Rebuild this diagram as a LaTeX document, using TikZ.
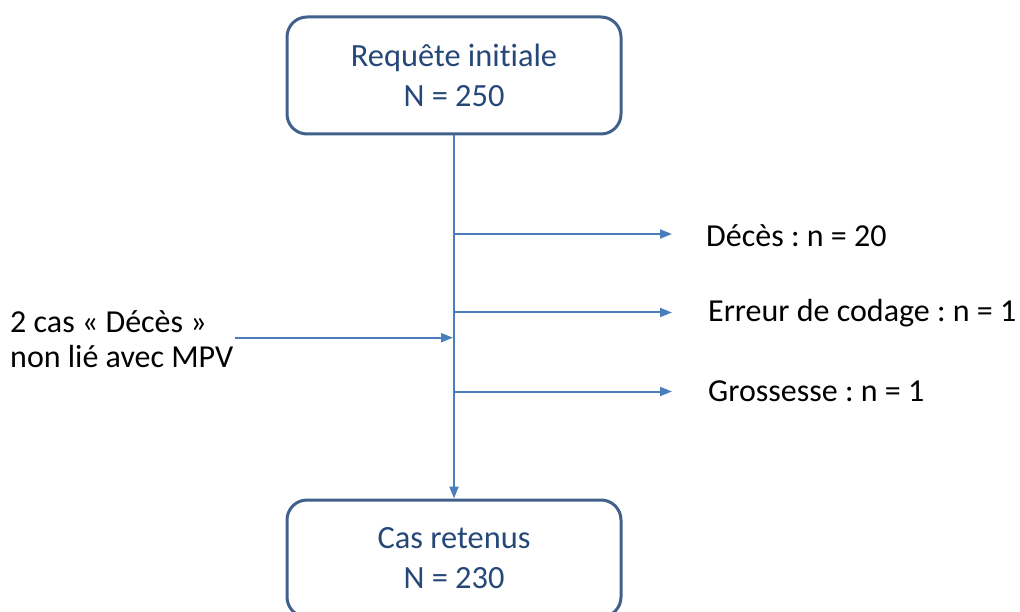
\documentclass[tikz,border=0pt]{standalone}
\usepackage{fontspec}
\setmainfont[Ligatures=NoCommon]{Carlito}
\frenchspacing
\usetikzlibrary{arrows.meta}
\definecolor{boxline}{RGB}{65,97,140}
\definecolor{boxtext}{RGB}{38,72,120}
\definecolor{flow}{RGB}{74,126,187}
\tikzset{
  stage/.style={draw=boxline, line width=3pt, rounded corners=20pt,
    minimum width=334pt, minimum height=117pt, align=center,
    text=boxtext, font=\fontsize{32.4}{40}\selectfont},
  note/.style={anchor=west, align=left, text=black,
    font=\fontsize{32}{35}\selectfont, inner sep=0pt},
  flowline/.style={draw=flow, line width=2pt,
    -{Triangle[length=12pt,width=9pt]}}
}
\begin{document}
\begin{tikzpicture}[x=1pt,y=-1pt]
\useasboundingbox (0,0) rectangle (1020,612);

% the two stages of the selection
\node[stage] (start) at (454,75.5) {Requête initiale\\N = 250};
\node[stage] (kept) at (454,558.5) {Cas retenus\\N = 230};

% main flow
\draw[flowline] (start.south) -- (kept.north);

% exclusions branching off the trunk
\coordinate (b1) at (454,234);
\coordinate (b2) at (454,312.5);
\coordinate (b3) at (454,391.5);
\coordinate (e1) at (672,234);
\coordinate (e2) at (672,312.5);
\coordinate (e3) at (672,391.5);
\draw[flowline] (b1) -- (e1);
\draw[flowline] (b2) -- (e2);
\draw[flowline] (b3) -- (e3);

\node[note] (x1) at (706,236) {Décès : n = 20};
\node[note] (x2) at (708,313) {Erreur de codage : n = 1};
\node[note] (x3) at (708,391) {Grossesse : n = 1};

% cases put back into the flow
\node[note] (back) at (10,339) {2 cas « Décès »\\non lié avec MPV};
\coordinate (in0) at (235,337.7);
\coordinate (in1) at (453,337.7);
\draw[flowline] (in0) -- (in1);
\end{tikzpicture}
\end{document}
